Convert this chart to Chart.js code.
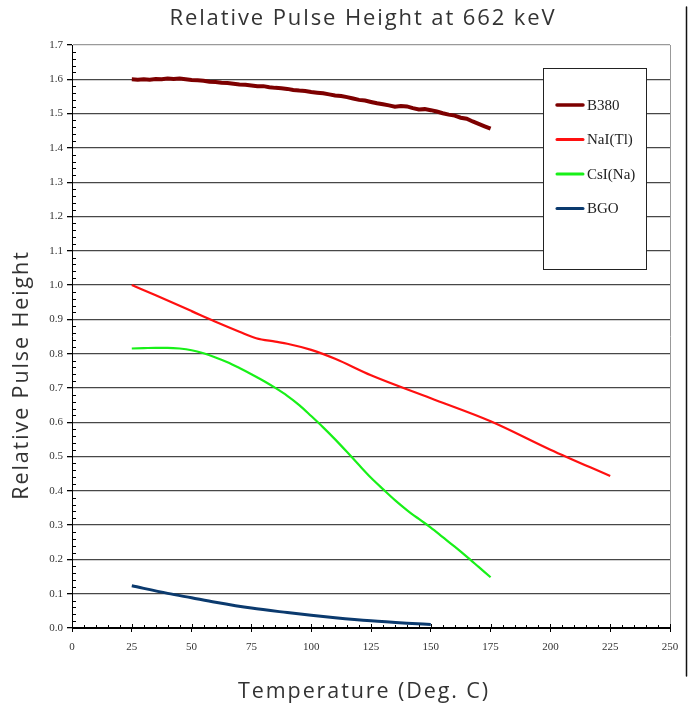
<!DOCTYPE html>
<html><head><meta charset="utf-8">
<script src="https://cdn.jsdelivr.net/npm/chart.js@4/dist/chart.umd.min.js"></script>
<style>html,body{margin:0;padding:0;background:#fff;}#wrap{position:relative;width:692px;height:708px;}</style>
</head><body><div id="wrap"><canvas id="c" width="692" height="708"></canvas></div>
<script>
const chartTitle = 'Relative Pulse Height at 662 keV';
const xTitle = 'Temperature (Deg. C)';
const yTitle = 'Relative Pulse Height';
const seriesNames = ['B380', 'NaI(Tl)', 'CsI(Na)', 'BGO'];
const seriesColors = ['#7d0000', '#ff1010', '#18f018', '#0b3a6e'];
const seriesWidths = [4, 2.2, 2.2, 3];

const b380Temp = [25,27.5,30,32.5,35,37.5,40,42.5,45,47.5,50,52.5,55,57.5,60,62.5,65,67.5,70,72.5,75,77.5,80,82.5,85,87.5,90,92.5,95,97.5,100,102.5,105,107.5,110,112.5,115,117.5,120,122.5,125,127.5,130,132.5,135,137.5,140,142.5,145,147.5,150,152.5,155,157.5,160,162.5,165,167.5,170,172.5,175];
const b380Vals = [1.600,1.599,1.600,1.599,1.601,1.600,1.602,1.601,1.602,1.600,1.598,1.597,1.596,1.593,1.592,1.590,1.589,1.587,1.585,1.584,1.582,1.580,1.580,1.577,1.575,1.574,1.572,1.569,1.567,1.566,1.563,1.561,1.559,1.556,1.553,1.551,1.548,1.544,1.540,1.538,1.534,1.530,1.527,1.524,1.520,1.522,1.521,1.516,1.512,1.513,1.510,1.506,1.501,1.497,1.494,1.488,1.485,1.477,1.470,1.463,1.456];

const naiTemp = [25,35,50,60,70,77,85,90,100,110,125,150,175,200,225];
const naiVals = [1.000,0.970,0.924,0.893,0.864,0.845,0.835,0.829,0.811,0.785,0.737,0.670,0.603,0.520,0.443];

const csiTemp = [25,30,35,40,45,50,55,60,65,70,75,80,85,90,95,100,105,110,115,120,125,130,135,140,145,150,155,160,165,170,175];
const csiVals = [0.815,0.816,0.817,0.817,0.815,0.810,0.801,0.789,0.775,0.758,0.740,0.721,0.700,0.677,0.650,0.618,0.585,0.550,0.513,0.475,0.438,0.405,0.373,0.344,0.318,0.293,0.265,0.237,0.208,0.178,0.148];

const bgoTemp = [25,40,50,60,75,90,100,110,125,140,150];
const bgoVals = [0.123,0.101,0.088,0.075,0.058,0.045,0.037,0.030,0.021,0.014,0.010];

const xTicks = [0,25,50,75,100,125,150,175,200,225,250];
const yTicks = [0,0.1,0.2,0.3,0.4,0.5,0.6,0.7,0.8,0.9,1.0,1.1,1.2,1.3,1.4,1.5,1.6,1.7];

const temps = [b380Temp, naiTemp, csiTemp, bgoTemp];
const vals = [b380Vals, naiVals, csiVals, bgoVals];

const datasets = seriesNames.map((name, i) => ({
  label: name,
  data: temps[i].map((t, j) => ({x: t, y: vals[i][j]})),
  borderColor: seriesColors[i],
  backgroundColor: seriesColors[i],
  borderWidth: seriesWidths[i],
  pointRadius: 0,
  fill: false,
  tension: i === 0 ? 0 : 0.4,
  cubicInterpolationMode: i === 0 ? 'default' : 'monotone'
}));

const serif = "'Liberation Serif', 'Times New Roman', serif";
const sans = "'Open Sans', sans-serif";

const decor = {
  id: 'decor',
  afterDraw(chart) {
    const {ctx, chartArea: a, scales: {x, y}} = chart;
    ctx.save();
    // right frame line
    ctx.strokeStyle = '#999';
    ctx.lineWidth = 1;
    const rx = Math.round(a.right) + 0.5;
    ctx.beginPath(); ctx.moveTo(rx, a.top); ctx.lineTo(rx, a.bottom); ctx.stroke();
    // minor ticks
    ctx.strokeStyle = '#000';
    ctx.beginPath();
    for (let k = 1; k < 85; k++) {
      if (k % 5 === 0) continue;
      const py = Math.round(y.getPixelForValue(k * 0.02)) + 0.5;
      ctx.moveTo(a.left, py); ctx.lineTo(a.left + 4, py);
    }
    for (let t = 5; t <= 250; t += 5) {
      const px = Math.round(x.getPixelForValue(t)) + 0.5;
      ctx.moveTo(px, a.bottom); ctx.lineTo(px, a.bottom - (t % 25 === 0 ? 4 : 3));
    }
    ctx.stroke();
    // legend box
    const lx = 543.5, ly = 68.5, lw = 103, lh = 201;
    ctx.fillStyle = '#fff';
    ctx.fillRect(lx, ly, lw, lh);
    ctx.strokeStyle = '#222';
    ctx.lineWidth = 1;
    ctx.strokeRect(lx, ly, lw, lh);
    chart.data.datasets.forEach((ds, i) => {
      const cy = 105 + i * 34.5;
      ctx.strokeStyle = ds.borderColor;
      ctx.lineWidth = i === 0 ? 3.5 : 3;
      ctx.lineCap = 'round';
      ctx.beginPath(); ctx.moveTo(557, cy); ctx.lineTo(583, cy); ctx.stroke();
      ctx.fillStyle = '#222';
      ctx.font = '15px ' + serif;
      ctx.textBaseline = 'middle';
      ctx.textAlign = 'left';
      ctx.fillText(ds.label, 587, cy + 1);
    });
    // titles
    ctx.fillStyle = '#333';
    ctx.textAlign = 'center';
    ctx.textBaseline = 'middle';
    ctx.letterSpacing = '1.9px';
    ctx.font = '22px ' + sans;
    ctx.fillText(chartTitle, 363, 19);
    ctx.font = '21.5px ' + sans;
    ctx.fillText(xTitle, 364, 692);
    ctx.translate(22, 375);
    ctx.rotate(-Math.PI / 2);
    ctx.fillText(yTitle, 0, 0);
    ctx.setTransform(1, 0, 0, 1, 0, 0);
    ctx.letterSpacing = '0px';
    // outer right border line
    ctx.strokeStyle = '#111';
    ctx.lineWidth = 1.5;
    ctx.beginPath(); ctx.moveTo(686.5, 7); ctx.lineTo(686.5, 676); ctx.stroke();
    ctx.restore();
  }
};

new Chart(document.getElementById('c'), {
  type: 'line',
  data: { datasets },
  options: {
    responsive: false,
    animation: false,
    layout: { padding: { top: 45, right: 22, left: 0, bottom: 0 } },
    plugins: { legend: { display: false }, title: { display: false }, tooltip: { enabled: false } },
    scales: {
      x: {
        type: 'linear', min: 0, max: 250,
        afterFit: s => { s.height = 80; },
        afterBuildTicks: s => { s.ticks = xTicks.map(v => ({value: v})); },
        ticks: { font: { family: serif, size: 11 }, color: '#333', padding: 9, maxRotation: 0 },
        grid: { drawOnChartArea: false, drawTicks: true, tickLength: 4, color: '#000', tickColor: '#000' },
        border: { color: '#000', width: 1 }
      },
      y: {
        type: 'linear', min: 0, max: 1.7,
        afterFit: s => { s.width = 72; },
        afterBuildTicks: s => { s.ticks = yTicks.map(v => ({value: v})); },
        ticks: { font: { family: serif, size: 11 }, color: '#333', padding: 4, callback: v => Number(v).toFixed(1) },
        grid: {
          drawTicks: true, tickLength: 5, tickColor: '#000', lineWidth: 1.3,
          color: c => (c.tick && Math.abs(c.tick.value - 1.7) < 1e-6) ? '#9a9a9a' : (c.tick && c.tick.value === 0 ? '#000' : '#474747')
        },
        border: { color: '#000', width: 1 }
      }
    }
  },
  plugins: [decor]
});
</script>
</body></html>
